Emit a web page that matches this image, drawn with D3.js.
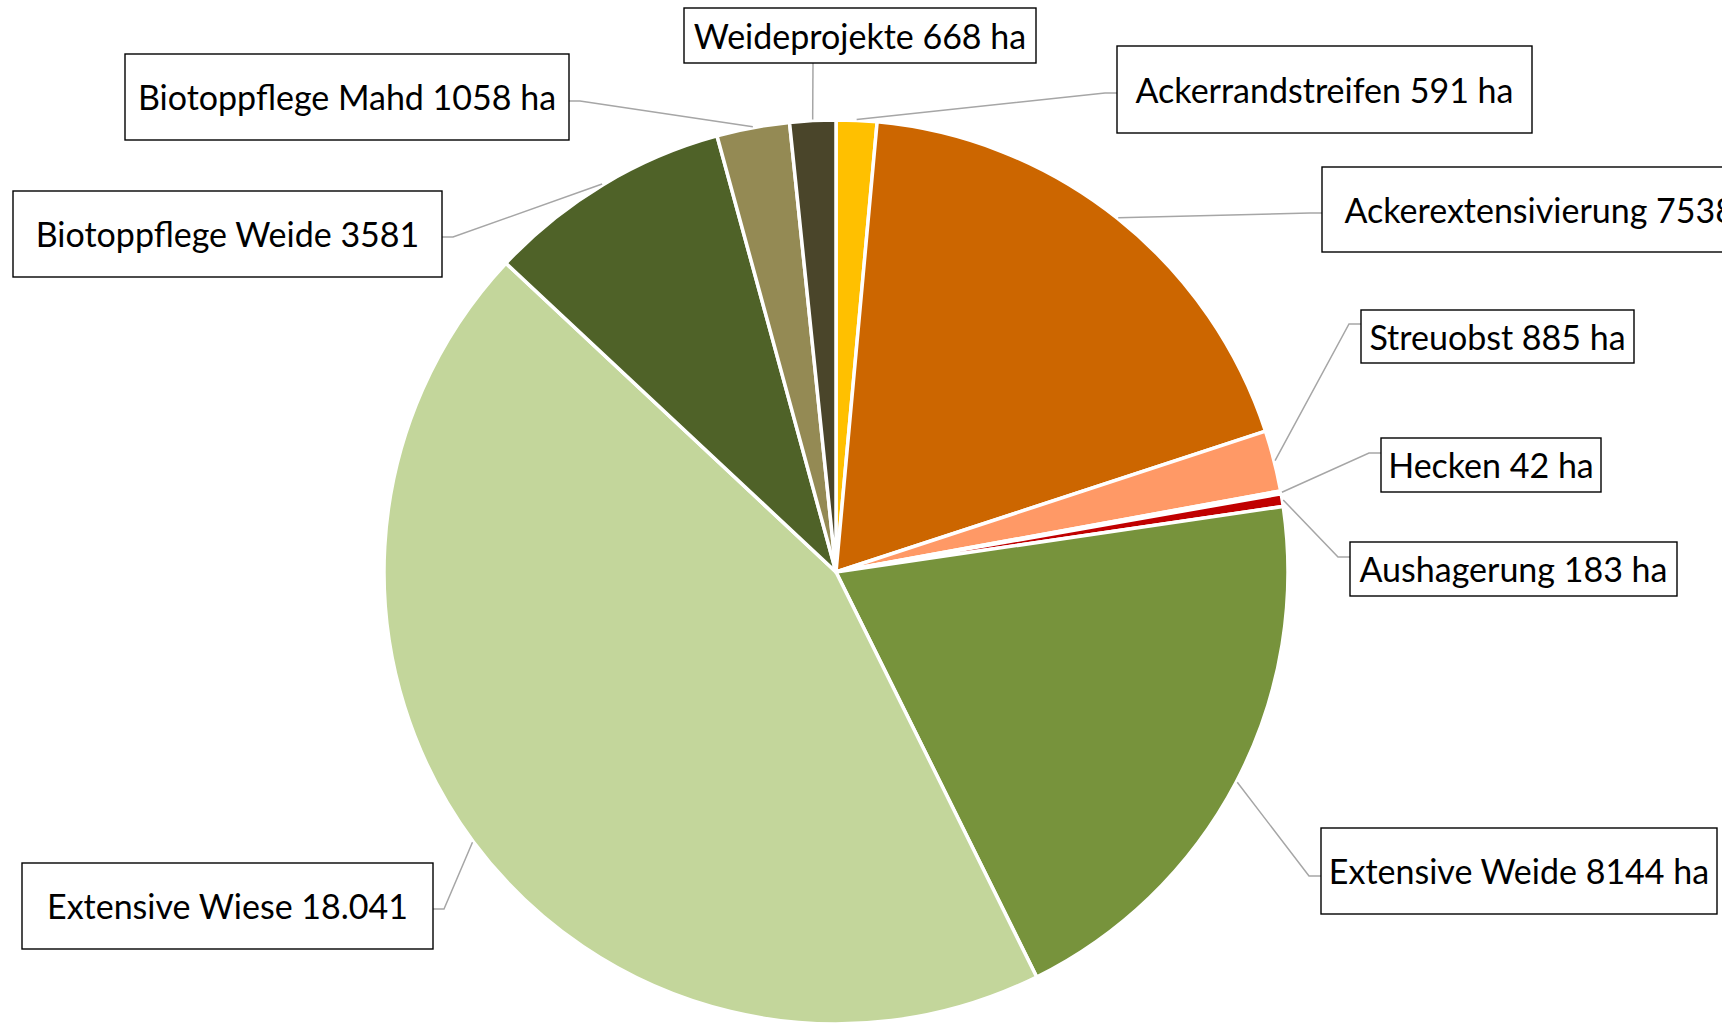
<!DOCTYPE html>
<html><head><meta charset="utf-8">
<script src="https://cdn.jsdelivr.net/npm/d3@7"></script>
<style>html,body{margin:0;padding:0;background:#fff;overflow:hidden}</style>
</head><body><svg id="chart" width="1722" height="1024"></svg>
<script>
// ---- data ----
const categories = ["Ackerrandstreifen","Ackerextensivierung","Streuobst","Hecken","Aushagerung","Extensive Weide","Extensive Wiese","Biotoppflege Weide","Biotoppflege Mahd","Weideprojekte"];
const values = [591, 7538, 885, 42, 183, 8144, 18041, 3581, 1058, 668];
const labelTexts = ["Ackerrandstreifen 591 ha","Ackerextensivierung 7538 ha","Streuobst 885 ha","Hecken 42 ha","Aushagerung 183 ha","Extensive Weide 8144 ha","Extensive Wiese 18.041","Biotoppflege Weide 3581","Biotoppflege Mahd 1058 ha","Weideprojekte 668 ha"];
const colors = ["#FFC000","#CC6600","#FF9966","#FF0000","#C00000","#77933C","#C3D69B","#4F6228","#948A54","#4A452A"];

// ---- layout (label boxes placed as in the original) ----
const labelBoxes = [[1117,46,415,87],[1322,167,480,85],[1361,310,273,53],[1381,438,220,54],[1350,542,327,54],[1321,828,396,86],[22,863,411,86],[13,191,429,86],[125,54,444,86],[684,8,352,55]];
const labelAnchors = [[1117,93,"left"],[1322,213,"left"],[1361,324,"left"],[1381,453,"left"],[1350,557,"left"],[1321,876,"left"],[433,909,"right"],[442,237,"right"],[569,101,"right"],[813,63,"bottom"]];

const cx = 836, cy = 572, R = 452;
const svg = d3.select("#chart");
const data = categories.map((c,i)=>({cat:c, value:values[i], label:labelTexts[i], color:colors[i], box:labelBoxes[i], anchor:labelAnchors[i]}));

const pie = d3.pie().sort(null).value(d=>d.value).startAngle(0).endAngle(2*Math.PI);
const arc = d3.arc().innerRadius(0).outerRadius(R);
const arcs = pie(data);

const g = svg.append("g").attr("transform",`translate(${cx},${cy})`);
g.selectAll("path.slice").data(arcs).join("path")
  .attr("class","slice")
  .attr("d",arc)
  .attr("fill",d=>d.data.color)
  .attr("stroke","#fff")
  .attr("stroke-width",3.5)
  .attr("stroke-linejoin","round");

// leader lines
const leaderG = svg.append("g");
arcs.forEach(d=>{
  const a = (d.startAngle+d.endAngle)/2;
  const ex = cx + (R+1)*Math.sin(a), ey = cy - (R+1)*Math.cos(a);
  const [ax, ay, side] = d.data.anchor;
  let pts;
  if (side === "left") pts = [[ex,ey],[ax-12,ay],[ax,ay]];
  else if (side === "right") pts = [[ex,ey],[ax+11,ay],[ax,ay]];
  else pts = [[ex,ey],[ax,ay]];
  leaderG.append("path")
    .attr("d", d3.line()(pts))
    .attr("fill","none")
    .attr("stroke","#A6A6A6")
    .attr("stroke-width",1.5);
});

// label boxes
const lab = svg.append("g").selectAll("g").data(data).join("g");
lab.append("rect")
  .attr("x",d=>d.box[0]).attr("y",d=>d.box[1])
  .attr("width",d=>d.box[2]).attr("height",d=>d.box[3])
  .attr("fill","#fff").attr("stroke","#000").attr("stroke-width",1.4);
lab.append("text")
  .attr("x",d=>d.box[0]+d.box[2]/2)
  .attr("y",d=>d.box[1]+d.box[3]/2+13)
  .attr("text-anchor","middle")
  .attr("font-family","Lato, 'Open Sans', sans-serif")
  .attr("font-size",34)
  .attr("fill","#000")
  .text(d=>d.label);
</script>
</body></html>
